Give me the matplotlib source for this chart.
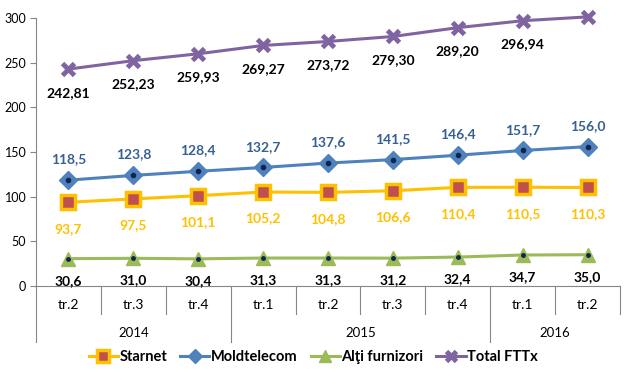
import matplotlib
matplotlib.use("Agg")
import matplotlib.pyplot as plt
import matplotlib.transforms as mtransforms

plt.rcParams['font.family'] = ['Lato', 'DejaVu Sans']

quarters = ["tr.2", "tr.3", "tr.4", "tr.1", "tr.2", "tr.3", "tr.4", "tr.1", "tr.2"]
years = ["2014", "2015", "2016"]
year_spans = [(0, 3), (3, 7), (7, 9)]

starnet = [93.7, 97.5, 101.1, 105.2, 104.8, 106.6, 110.4, 110.5, 110.3]
moldtelecom = [118.5, 123.8, 128.4, 132.7, 137.6, 141.5, 146.4, 151.7, 156.0]
alti = [30.6, 31.0, 30.4, 31.3, 31.3, 31.2, 32.4, 34.7, 35.0]
total = [242.81, 252.23, 259.93, 269.27, 273.72, 279.30, 289.20, 296.94, 301.25]

def fmt(v, d):
    return f"{v:.{d}f}".replace(".", ",")

fig = plt.figure(figsize=(6.24, 3.87), dpi=100)
ax = fig.add_axes([36/624, 1-286/387, 584/624, 268/387])
x = list(range(len(quarters)))

c_star, c_star_in = "#FFC000", "#C0504D"
c_mold, c_mold_lab = "#4F81BD", "#376092"
c_alti = "#9BBB59"
c_tot = "#8064A2"
c_dot = "#0F2550"

ax.plot(x, total, color=c_tot, lw=2.2, marker="x", ms=9, mew=3.5, mfc=c_tot, mec=c_tot,
        label="Total FTTx", zorder=3, clip_on=False)
ax.plot(x, moldtelecom, color=c_mold, lw=2.2, marker="D", ms=9, mfc=c_mold, mec=c_mold,
        label="Moldtelecom", zorder=3, clip_on=False)
ax.plot(x, moldtelecom, ls="none", marker="o", ms=3, mfc=c_dot, mec=c_dot, zorder=4)
ax.plot(x, starnet, color=c_star, lw=2.2, marker="s", ms=10, mfc=c_star_in, mec=c_star,
        mew=2.5, label="Starnet", zorder=3, clip_on=False)
ax.plot(x, alti, color=c_alti, lw=2.2, marker="^", ms=10, mfc=c_alti, mec=c_alti,
        label="Alţi furnizori", zorder=3, clip_on=False)
ax.plot(x, alti, ls="none", marker="o", ms=2.5, mfc=c_dot, mec=c_dot, zorder=4)

lab_kw = dict(ha="center", fontsize=10, fontweight="bold", textcoords="offset points")
for xi, v in zip(x, total):
    ax.annotate(fmt(v, 2), (xi, v), xytext=(0, -17), va="center", color="black", **lab_kw)
for xi, v in zip(x, moldtelecom):
    ax.annotate(fmt(v, 1), (xi, v), xytext=(0, 15), va="center", color=c_mold_lab, **lab_kw)
for xi, v in zip(x, starnet):
    ax.annotate(fmt(v, 1), (xi, v), xytext=(0, -19), va="center", color=c_star, **lab_kw)
for xi, v in zip(x, alti):
    ax.annotate(fmt(v, 1), (xi, v), xytext=(0, -16), va="center", color="black", **lab_kw)

ax.set_xlim(-0.5, len(quarters) - 0.5)
ax.set_ylim(0, 300)
ax.set_yticks(range(0, 301, 50))
ax.tick_params(axis="y", labelsize=9, length=4, color="#868686", pad=3)
ax.set_xticks([])
for s in ["top", "right"]:
    ax.spines[s].set_visible(False)
ax.spines["left"].set_color("#868686")
ax.spines["bottom"].set_color("#868686")

trans = mtransforms.blended_transform_factory(ax.transData, ax.transAxes)
px = 1 / 268.0
for xi, q in zip(x, quarters):
    ax.text(xi, -19 * px, q, transform=trans, ha="center", va="center", fontsize=10)
year_bounds = set(s for s, e in year_spans)
for b in range(len(quarters) + 1):
    bottom = -56 * px if b in year_bounds else -28 * px
    ax.plot([b - 0.5, b - 0.5], [0, bottom], transform=trans, color="#868686",
            lw=0.8, clip_on=False)
for (s, e), yname in zip(year_spans, years):
    ax.text((s + e - 1) / 2, -47 * px, yname, transform=trans, ha="center", va="center",
            fontsize=9.5)

handles, labels = ax.get_legend_handles_labels()
order = [labels.index(n) for n in ["Starnet", "Moldtelecom", "Alţi furnizori", "Total FTTx"]]
fig.legend([handles[i] for i in order], [labels[i] for i in order],
           loc="center", bbox_to_anchor=(0.502, 1 - 357/387), ncol=4, frameon=False,
           prop=dict(size=10.5, weight="bold"), handlelength=2.0, columnspacing=0.9,
           handletextpad=0.1, markerscale=0.8)

fig.savefig("out.png", dpi=100)
